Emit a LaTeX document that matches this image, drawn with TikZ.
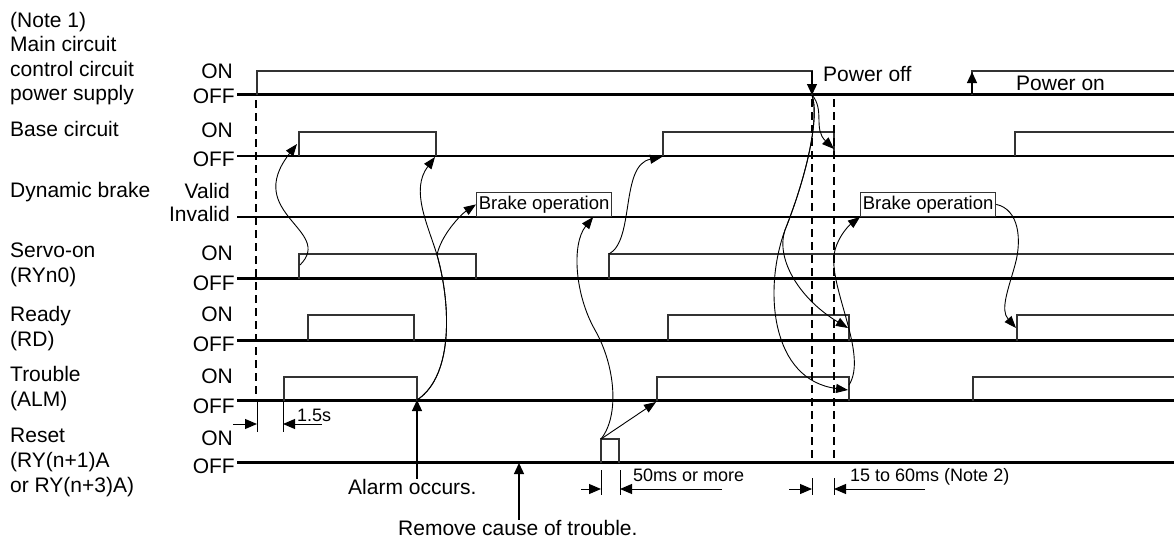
\documentclass[tikz,border=0pt]{standalone}
\usepackage{fontspec}
\setmainfont{Liberation Sans}
\usepackage{tikz}
\usetikzlibrary{arrows.meta}

\begin{document}
\begin{tikzpicture}[x=1pt, y=-1pt,
    sigoff/.style={line width=2.6pt},
    sigon/.style={line width=1.6pt, black!80},
    brkbox/.style={rectangle, draw=black!80, line width=1.2pt, inner sep=0pt, minimum width=135pt, minimum height=24pt, anchor=south west, font=\fontsize{18.5}{21}\selectfont},
    sigtxt/.style={font=\fontsize{21}{25}\selectfont, align=left, anchor=base west, inner sep=0pt},
    lvl/.style={font=\fontsize{21}{25}\selectfont, anchor=base east, inner sep=0pt},
    note/.style={font=\fontsize{18}{21}\selectfont, anchor=base west, inner sep=0pt},
    curv/.style={-{Triangle[length=12pt, width=9pt]}, line width=0.9pt},
    evarr/.style={-{Triangle[length=11pt, width=10pt]}, line width=1.3pt},
    dimarr/.style={-{Triangle[length=12pt, width=10pt]}, line width=1pt},
    dimtick/.style={line width=1pt},
    guide/.style={line width=1.3pt, dash pattern=on 8pt off 5pt}
  ]
    \useasboundingbox (0,0) rectangle (1174,538);

    % Signal names (base = last line)
    \node[sigtxt, font=\fontsize{21}{24.5}\selectfont] (nmpow) at (10,100.5) {(Note 1)\\Main circuit\\control circuit\\power supply};
    \node[sigtxt] (nmbase) at (10,136.7) {Base circuit};
    \node[sigtxt] (nmdyn) at (10,197.5) {Dynamic brake};
    \node[sigtxt] (nmsrv) at (10,282.5) {Servo-on\\(RYn0)};
    \node[sigtxt] (nmrdy) at (10,346) {Ready\\(RD)};
    \node[sigtxt] (nmalm) at (10,406) {Trouble\\(ALM)};
    \node[sigtxt] (nmrst) at (10,492) {Reset\\(RY(n+1)A\\or RY(n+3)A)};

    % Levels
    \node[lvl] (lvpowon) at (233,78) {ON};
    \node[lvl] (lvpowoff) at (235,103) {OFF};
    \node[lvl] (lvbaseon) at (233,137) {ON};
    \node[lvl] (lvbaseoff) at (235,166) {OFF};
    \node[lvl] (lvdynon) at (230,198) {Valid};
    \node[lvl] (lvdynoff) at (230,221.7) {Invalid};
    \node[lvl] (lvsrvon) at (233,260) {ON};
    \node[lvl] (lvsrvoff) at (235,290) {OFF};
    \node[lvl] (lvrdyon) at (233,321.7) {ON};
    \node[lvl] (lvrdyoff) at (235,351.7) {OFF};
    \node[lvl] (lvalmon) at (233,383) {ON};
    \node[lvl] (lvalmoff) at (235,413) {OFF};
    \node[lvl] (lvrston) at (233,445) {ON};
    \node[lvl] (lvrstoff) at (235,473) {OFF};

    % Row 1: power supply
    \draw[sigoff] (237,94.5) -- (1174,94.5);
    \draw[sigon] (257,94.5) |- (812,71) -- (812,94.5);
    \draw[sigon] (972,94.5) |- (1174,71);

    % Row 2: base circuit
    \draw[sigoff] (237,156) -- (1174,156);
    \draw[sigon] (299,156) |- (436,132) -- (436,156);
    \draw[sigon] (663,156) |- (834,132) -- (834,156);
    \draw[sigon] (1015,156) |- (1174,132);

    % Row 3: dynamic brake
    \draw[sigoff] (237,217) -- (1174,217);
    \node[brkbox] (brk1) at (476,217) {Brake operation};
    \node[brkbox] (brk2) at (860,217) {Brake operation};

    % Row 4: servo-on
    \draw[sigoff] (237,278.5) -- (1174,278.5);
    \draw[sigon] (299,278.5) |- (476,254) -- (476,278.5);
    \draw[sigon] (609,278.5) |- (1174,254);

    % Row 5: ready
    \draw[sigoff] (237,340.5) -- (1174,340.5);
    \draw[sigon] (308,340.5) |- (414,315) -- (414,340.5);
    \draw[sigon] (668,340.5) |- (849,315) -- (849,340.5);
    \draw[sigon] (1017,340.5) |- (1174,315);

    % Row 6: trouble
    \draw[sigoff] (237,400.5) -- (1174,400.5);
    \draw[sigon] (284,400.5) |- (417,377) -- (417,400.5);
    \draw[sigon] (657,400.5) |- (849,377) -- (849,400.5);
    \draw[sigon] (973,400.5) |- (1174,377);

    % Row 7: reset
    \draw[sigoff] (237,462.5) -- (1174,462.5);
    \draw[sigon] (601,462.5) |- (619,439) -- (619,462.5);

    % Timing guides
    \draw[guide] (256,100) -- (256,401);
    \draw[guide] (812,99) -- (812,462);
    \draw[guide] (834,99) -- (834,462);

    % Event points
    \coordinate (pwrtop) at (812,71);
    \coordinate (pwroff) at (812,95);
    \coordinate (pwrup) at (972,94);
    \coordinate (pwron) at (972,72);
    \coordinate (basehi1) at (297,144);
    \coordinate (basefall1) at (435,157);
    \coordinate (basehi2) at (662,157);
    \coordinate (basefall2) at (834,149);
    \coordinate (srvon1) at (300,265);
    \coordinate (srvon2) at (609,254);
    \coordinate (rdyfall2) at (848,328);
    \coordinate (rdyon3) at (1016,328);
    \coordinate (almfall1) at (417,400);
    \coordinate (almon2) at (656,402);
    \coordinate (almfall2) at (848,390);
    \coordinate (almtop2) at (849,385);
    \coordinate (rstpulse) at (601,439);
    \coordinate (rmvpt) at (519,463);
    \coordinate (almmid) at (437,255);
    \coordinate (rstmid) at (595,330);
    \coordinate (pwrmid) at (785,230);
    \coordinate (almmid2) at (834,255);
    \coordinate (brkmid2) at (1015,265);

    % Power off / on
    \draw[evarr] (pwrtop) -- (pwroff);
    \draw[evarr] (pwrup) -- (pwron);
    \node[sigtxt] (txoff) at (823,81.7) {Power off};
    \node[sigtxt] (txon) at (1016,90) {Power on};

    % Cause and effect
    \draw[curv] (srvon1) .. controls +(35,-35) and +(-55,70) .. (basehi1);
    \draw[curv] (almfall1) .. controls +(38,-25) and +(13,45) .. (almmid) .. controls +(-9,-30) and +(-25,33) .. (basefall1);
    \draw[curv] (almfall1) .. controls +(38,-25) and +(13,45) .. (almmid) .. controls +(4,-20) and +(-15,10) .. (brk1.west);
    \draw[curv] (rstpulse) .. controls +(19,-24) and +(20,35) .. (rstmid) .. controls +(-20,-35) and +(-22,27) .. ([xshift=-19pt]brk1.south east);
    \draw[curv] (rstpulse) -- (almon2);
    \draw[curv] (srvon2) .. controls +(26,-14) and +(-42,8) .. (basehi2);
    \draw[curv] (pwroff) .. controls +(13,15) and +(-21,-20) .. (basefall2);
    \draw[curv] (pwroff) .. controls +(8,25) and +(20,-50) .. (pwrmid) .. controls +(-10,30) and +(-47,-28) .. (rdyfall2);
    \draw[curv] (pwroff) .. controls +(8,25) and +(20,-50) .. (pwrmid) .. controls +(-22,60) and +(-77,-10) .. (almfall2);
    \draw[curv] (almtop2) .. controls +(19,-30) and +(-4,35) .. (almmid2) .. controls +(2,-15) and +(-13,10) .. (brk2.south west);
    \draw[curv] (brk2.east) .. controls +(23,5) and +(7,-25) .. (brkmid2) .. controls +(-7,25) and +(-16,-18) .. (rdyon3);

    % Bottom notes
    \node[sigtxt] (txalarm) at (348,494) {Alarm occurs.};
    \node[sigtxt] (txremove) at (398,535.5) {Remove cause of trouble.};
    \draw[evarr] (txalarm.north -| almfall1) -- (almfall1);
    \draw[evarr] (txremove.north -| rmvpt) -- (rmvpt);

    % 1.5s
    \coordinate (d1a) at (257,424);
    \coordinate (d1b) at (283,424);
    \draw[dimtick] (257,402) -- (257,432);
    \draw[dimtick] (283,402) -- (283,432);
    \draw[dimarr] ([xshift=-24pt]d1a) -- (d1a);
    \draw[dimarr] ([xshift=39pt]d1b) -- (d1b);
    \node[note] (tx15) at (297,421) {1.5s};

    % 50ms or more
    \coordinate (d2a) at (601,489);
    \coordinate (d2b) at (620,489);
    \draw[dimtick] (601,470) -- (601,495);
    \draw[dimtick] (620,470) -- (620,495);
    \draw[dimarr] ([xshift=-20pt]d2a) -- (d2a);
    \draw[dimarr] ([xshift=102pt]d2b) -- (d2b);
    \node[note] (tx50) at (633,481.5) {50ms or more};

    % 15 to 60ms
    \coordinate (d3a) at (812,489);
    \coordinate (d3b) at (834,489);
    \draw[dimtick] (812,478) -- (812,495);
    \draw[dimtick] (834,478) -- (834,495);
    \draw[dimarr] ([xshift=-23pt]d3a) -- (d3a);
    \draw[dimarr] ([xshift=91pt]d3b) -- (d3b);
    \node[note] (tx1560) at (850,481.5) {15 to 60ms (Note 2)};
  \end{tikzpicture}
\end{document}
